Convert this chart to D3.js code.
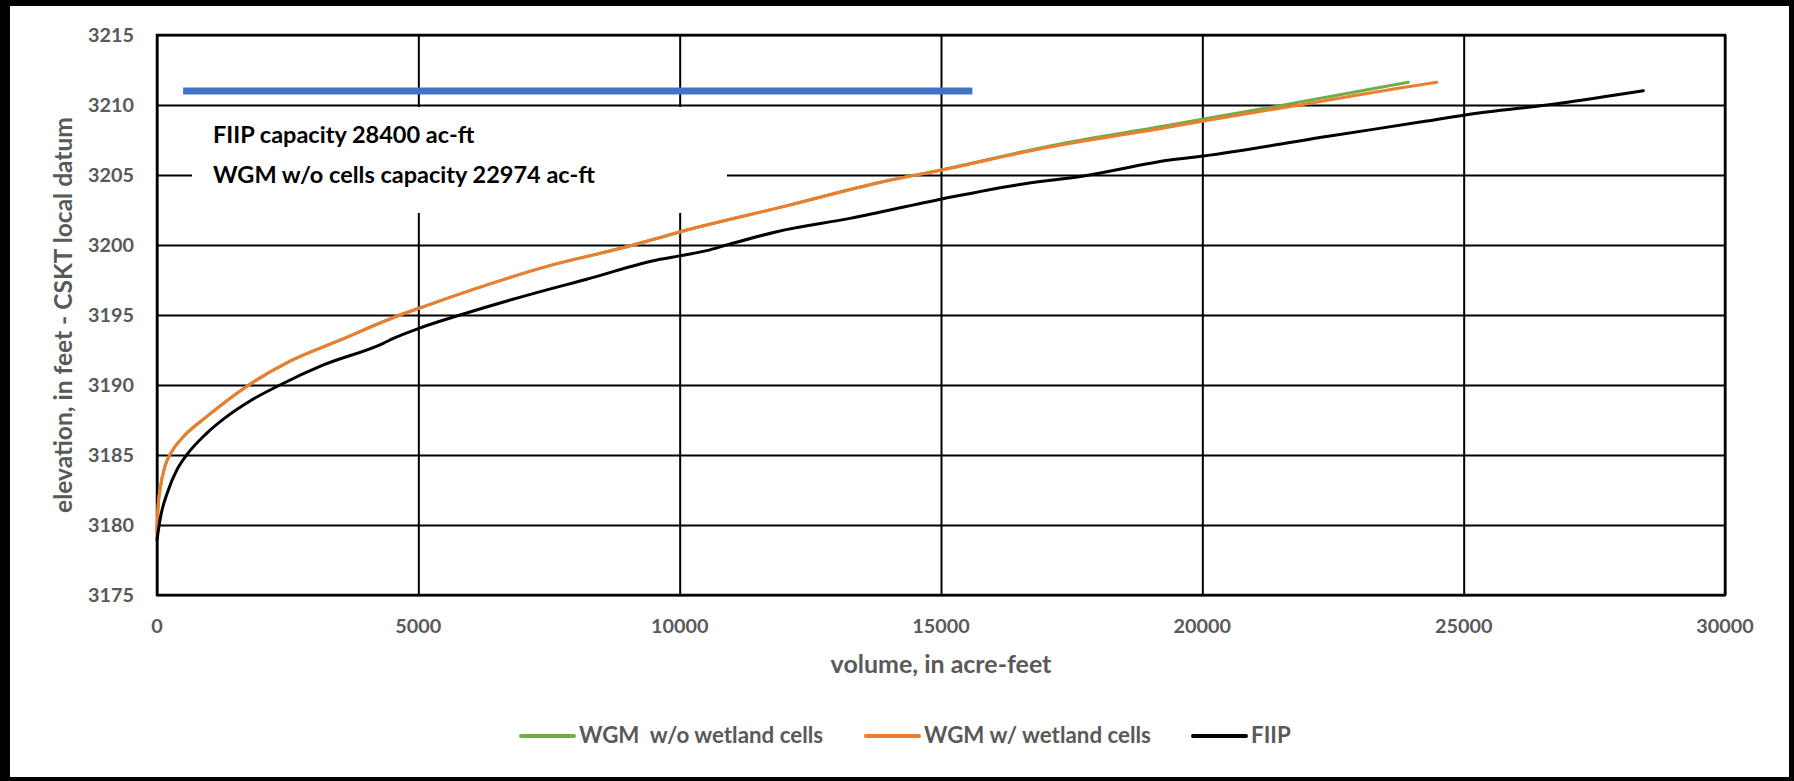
<!DOCTYPE html>
<html>
<head>
<meta charset="utf-8">
<script src="https://cdn.jsdelivr.net/npm/d3@7"></script>
<style>
  html, body { margin: 0; padding: 0; background: #fff; }
  svg { display: block; }
  text { font-family: Lato, "Noto Sans", sans-serif; font-weight: 700; }
</style>
</head>
<body>
<svg id="chart" width="1794" height="781"></svg>
<script>
// ---------------- data ----------------
const xTicks = [0, 5000, 10000, 15000, 20000, 25000, 30000];
const yTicks = [3175, 3180, 3185, 3190, 3195, 3200, 3205, 3210, 3215];

const seriesNames = ["WGM  w/o wetland cells", "WGM w/ wetland cells", "FIIP"];
const seriesColors = ["#70AD47", "#ED7D31", "#000000"];

// WGM w/o wetland cells
const greenVolume = [0, 20, 57, 153, 281, 504, 950, 1716, 2545, 3501, 4649, 5013, 6052, 7328, 9113, 10019, 11983, 13897, 15020, 17085, 19184, 20025, 21740, 23941];
const greenElev   = [3179.5, 3181.3, 3182.5, 3184.2, 3185.24, 3186.3, 3187.74, 3189.9, 3191.7, 3193.2, 3195, 3195.48, 3196.83, 3198.33, 3200, 3200.95, 3202.74, 3204.53, 3205.38, 3207.08, 3208.45, 3209.0, 3210.12, 3211.62];

// WGM w/ wetland cells
const orangeVolume = [0, 20, 57, 153, 281, 504, 950, 1716, 2545, 3501, 4649, 5013, 6052, 7328, 9113, 10019, 11983, 13897, 15020, 17085, 19184, 20025, 21740, 23941, 24484];
const orangeElev   = [3179.5, 3181.3, 3182.5, 3184.2, 3185.24, 3186.3, 3187.74, 3189.9, 3191.7, 3193.2, 3195, 3195.48, 3196.83, 3198.33, 3200, 3200.95, 3202.74, 3204.52, 3205.36, 3207.0, 3208.3, 3208.85, 3209.93, 3211.31, 3211.62];

// FIIP
const fiipVolume = [0, 57, 217, 376, 567, 950, 1333, 1780, 2353, 3183, 4330, 4522, 5013, 5861, 7264, 8220, 9624, 10019, 10517, 10900, 11857, 13260, 15020, 16449, 17725, 19381, 20025, 22378, 24292, 25031, 26843, 28437];
const fiipElev   = [3178.93, 3180.36, 3182.5, 3183.9, 3185, 3186.55, 3187.74, 3188.86, 3190, 3191.43, 3192.98, 3193.33, 3194.05, 3195.07, 3196.6, 3197.55, 3198.98, 3199.24, 3199.6, 3200, 3200.95, 3201.9, 3203.29, 3204.29, 3204.93, 3206.07, 3206.36, 3207.75, 3208.85, 3209.29, 3210.12, 3211.02];

// capacity marker line (blue)
const capacityVolume = [500, 15600];
const capacityElev   = [3211, 3211];

const annotationLines = ["FIIP capacity 28400 ac-ft", "WGM w/o cells capacity 22974 ac-ft"];
const xTitle = "volume, in acre-feet";
const yTitle = "elevation, in feet - CSKT local datum";

// ---------------- layout ----------------
const svg = d3.select("#chart");
const L = 157, R = 1725, T = 35, B = 595;
const x = d3.scaleLinear().domain([0, 30000]).range([L, R]);
const y = d3.scaleLinear().domain([3175, 3215]).range([B, T]);
const grey = "#595959";

function fit(sel, target, base) {
  sel.style("font-size", base + "px");
  const w = sel.node().getComputedTextLength();
  const s = base * target / w;
  sel.style("font-size", s + "px");
  return s;
}

// outer frame
svg.append("rect").attr("x", 0).attr("y", 0).attr("width", 1794).attr("height", 781).attr("fill", "#fff");
svg.append("rect").attr("x", 0).attr("y", 0).attr("width", 1794).attr("height", 6).attr("fill", "#000");
svg.append("rect").attr("x", 0).attr("y", 0).attr("width", 10).attr("height", 781).attr("fill", "#000");
svg.append("rect").attr("x", 0).attr("y", 777).attr("width", 1794).attr("height", 4).attr("fill", "#000");
svg.append("rect").attr("x", 1789).attr("y", 0).attr("width", 5).attr("height", 781).attr("fill", "#000");

// gridlines
const gx = svg.append("g").attr("transform", `translate(0,${B})`)
  .call(d3.axisBottom(x).tickValues(xTicks).tickSize(-(B - T)).tickFormat(""));
gx.select(".domain").remove();
gx.selectAll("line").attr("stroke", "#000").attr("stroke-width", 2);

const gy = svg.append("g").attr("transform", `translate(${L},0)`)
  .call(d3.axisLeft(y).tickValues(yTicks).tickSize(-(R - L)).tickFormat(""));
gy.select(".domain").remove();
gy.selectAll("line").attr("stroke", "#000").attr("stroke-width", 2);

// plot border
svg.append("rect").attr("x", L).attr("y", T).attr("width", R - L).attr("height", B - T)
  .attr("fill", "none").attr("stroke", "#000").attr("stroke-width", 2.5);

// tick labels
const ylab = svg.append("g").selectAll("text").data(yTicks).join("text")
  .attr("x", 134).attr("y", d => y(d)).attr("dy", "0.35em")
  .attr("text-anchor", "end").attr("fill", grey).text(d => d);
const tickSize = fit(ylab.filter(d => d === 3215), 46, 20);
ylab.style("font-size", tickSize + "px");

svg.append("g").selectAll("text").data(xTicks).join("text")
  .attr("x", d => x(d)).attr("y", 633)
  .attr("text-anchor", "middle").attr("fill", grey)
  .style("font-size", tickSize + "px").text(d => d);

// axis titles
const xt = svg.append("text").attr("x", (L + R) / 2).attr("y", 673)
  .attr("text-anchor", "middle").attr("fill", grey).text(xTitle);
fit(xt, 221, 20);

const yt = svg.append("text").attr("transform", `translate(72,${(T + B) / 2}) rotate(-90)`)
  .attr("text-anchor", "middle").attr("fill", grey).text(yTitle);
fit(yt, 396, 20);

// annotation box
svg.append("rect").attr("x", 192).attr("y", 107).attr("width", 535).attr("height", 106).attr("fill", "#fff");
const ann = svg.append("g");
const a1 = ann.append("text").attr("x", 213).attr("y", 143).attr("fill", "#000").text(annotationLines[0]);
const a2 = ann.append("text").attr("x", 213).attr("y", 183).attr("fill", "#000").text(annotationLines[1]);
const annSize = fit(a2, 382, 22);
a1.style("font-size", annSize + "px");

// capacity line (blue)
const line = d3.line().x(d => x(d[0])).y(d => y(d[1]));
svg.append("path").datum(d3.zip(capacityVolume, capacityElev))
  .attr("d", line).attr("fill", "none").attr("stroke", "#4472C4").attr("stroke-width", 7);

// series
const curve = d3.line().x(d => x(d[0])).y(d => y(d[1])).curve(d3.curveMonotoneX);
const series = [
  d3.zip(greenVolume, greenElev),
  d3.zip(orangeVolume, orangeElev),
  d3.zip(fiipVolume, fiipElev)
];
series.forEach((s, i) => {
  svg.append("path").datum(s).attr("d", curve)
    .attr("fill", "none").attr("stroke", seriesColors[i]).attr("stroke-width", 3)
    .attr("stroke-linejoin", "round").attr("stroke-linecap", "round");
});

// legend
const legendX = [521, 866, 1193];
const legendY = 736;
const lg = svg.append("g");
let legSize = null;
seriesNames.forEach((n, i) => {
  lg.append("line").attr("x1", legendX[i]).attr("x2", legendX[i] + 53)
    .attr("y1", legendY).attr("y2", legendY)
    .attr("stroke", seriesColors[i]).attr("stroke-width", 4).attr("stroke-linecap", "round");
  const t = lg.append("text").attr("x", legendX[i] + 58).attr("y", 743)
    .attr("fill", grey).style("white-space", "pre").attr("xml:space", "preserve").text(n);
  if (i === 1) legSize = fit(t, 227, 20);
});
lg.selectAll("text").style("font-size", legSize + "px");
</script>
</body>
</html>
